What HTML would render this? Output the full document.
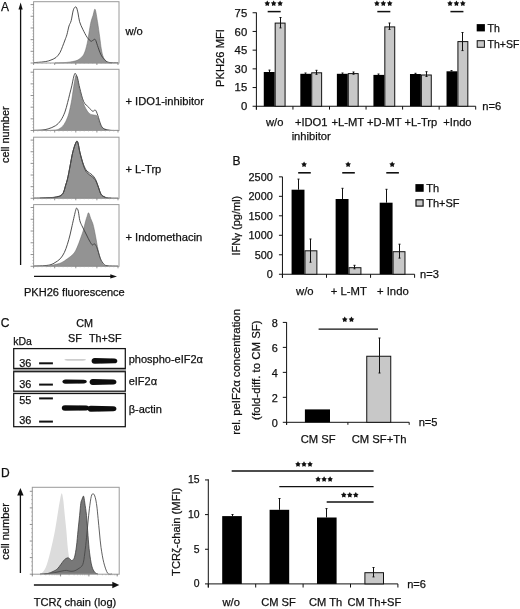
<!DOCTYPE html>
<html><head><meta charset="utf-8"><style>
html,body{margin:0;padding:0;background:#fff;width:520px;height:609px;overflow:hidden}
svg{display:block;filter:blur(0.3px)}
text{font-family:"Liberation Sans", sans-serif;stroke:#111;stroke-width:0.25px}
</style></head><body>
<svg width="520" height="609" viewBox="0 0 520 609">
<rect x="0" y="0" width="520" height="609" fill="#fff"/>
<text x="0.9" y="10.6" font-size="12" text-anchor="start" fill="#111">A</text>
<line x1="20.6" y1="8" x2="20.6" y2="265" stroke="#111" stroke-width="1.3"/>
<polygon points="20.6,2.6 18.5,9.4 22.7,9.4" fill="#111"/>
<line x1="34" y1="276.4" x2="111" y2="276.4" stroke="#111" stroke-width="1.3"/>
<polygon points="117,276.4 110.3,274.2 110.3,278.6" fill="#111"/>
<text x="24.0" y="295.6" font-size="11.05" text-anchor="start" fill="#111">PKH26 fluorescence</text>
<text x="8.9" y="134.7" font-size="11" text-anchor="middle" fill="#111" transform="rotate(-90 8.9 134.7)">cell number</text>
<path d="M55.00,62.90 C56.33,62.87 60.50,62.85 63.00,62.70 C65.50,62.55 68.00,62.28 70.00,62.00 C72.00,61.72 73.50,61.45 75.00,61.00 C76.50,60.55 77.52,60.43 79.00,59.30 C80.48,58.17 82.53,56.85 83.90,54.20 C85.27,51.55 86.28,47.37 87.20,43.40 C88.12,39.43 88.77,34.02 89.40,30.40 C90.03,26.78 90.38,24.23 91.00,21.70 C91.62,19.17 92.42,17.27 93.10,15.20 C93.78,13.13 94.37,8.22 95.10,9.30 C95.83,10.38 96.73,17.10 97.50,21.70 C98.27,26.30 99.07,32.38 99.70,36.90 C100.33,41.42 100.67,45.37 101.30,48.80 C101.93,52.23 102.42,55.23 103.50,57.50 C104.58,59.77 106.38,61.50 107.80,62.40 C109.22,63.30 111.30,62.82 112.00,62.90 L112.00,63.00 L55.00,63.00 Z" fill="#939393" stroke="#666" stroke-width="0.5"/>
<path d="M34.00,62.60 C35.67,62.47 41.33,62.17 44.00,61.80 C46.67,61.43 48.00,61.12 50.00,60.40 C52.00,59.68 54.33,58.82 56.00,57.50 C57.67,56.18 58.92,54.32 60.00,52.50 C61.08,50.68 61.67,48.68 62.50,46.60 C63.33,44.52 64.27,41.98 65.00,40.00 C65.73,38.02 66.23,37.03 66.90,34.70 C67.57,32.37 68.28,28.35 69.00,26.00 C69.72,23.65 70.47,23.30 71.20,20.60 C71.93,17.90 72.58,12.07 73.40,9.80 C74.22,7.53 75.33,6.47 76.10,7.00 C76.87,7.53 77.42,10.55 78.00,13.00 C78.58,15.45 78.80,18.98 79.60,21.70 C80.40,24.42 81.53,26.68 82.80,29.30 C84.07,31.92 85.83,35.42 87.20,37.40 C88.57,39.38 90.03,40.73 91.00,41.20 C91.97,41.67 92.28,40.47 93.00,40.20 C93.72,39.93 94.55,38.70 95.30,39.60 C96.05,40.50 96.60,43.17 97.50,45.60 C98.40,48.03 99.53,51.85 100.70,54.20 C101.87,56.55 103.13,58.33 104.50,59.70 C105.87,61.07 106.65,61.88 108.90,62.40 C111.15,62.92 116.48,62.73 118.00,62.80" fill="none" stroke="#3c3c3c" stroke-width="0.9"/>
<rect x="33.6" y="1.7" width="85.4" height="61.3" fill="none" stroke="#9a9a9a" stroke-width="1"/>
<line x1="30.6" y1="63.0" x2="33.6" y2="63.0" stroke="#777" stroke-width="0.8"/>
<line x1="32.4" y1="60.08" x2="33.6" y2="60.08" stroke="#999" stroke-width="0.6"/>
<line x1="32.4" y1="57.16" x2="33.6" y2="57.16" stroke="#999" stroke-width="0.6"/>
<line x1="32.4" y1="54.24" x2="33.6" y2="54.24" stroke="#999" stroke-width="0.6"/>
<line x1="30.6" y1="51.32" x2="33.6" y2="51.32" stroke="#777" stroke-width="0.8"/>
<line x1="32.4" y1="48.4" x2="33.6" y2="48.4" stroke="#999" stroke-width="0.6"/>
<line x1="32.4" y1="45.480000000000004" x2="33.6" y2="45.480000000000004" stroke="#999" stroke-width="0.6"/>
<line x1="32.4" y1="42.56" x2="33.6" y2="42.56" stroke="#999" stroke-width="0.6"/>
<line x1="30.6" y1="39.64" x2="33.6" y2="39.64" stroke="#777" stroke-width="0.8"/>
<line x1="32.4" y1="36.72" x2="33.6" y2="36.72" stroke="#999" stroke-width="0.6"/>
<line x1="32.4" y1="33.8" x2="33.6" y2="33.8" stroke="#999" stroke-width="0.6"/>
<line x1="32.4" y1="30.880000000000003" x2="33.6" y2="30.880000000000003" stroke="#999" stroke-width="0.6"/>
<line x1="30.6" y1="27.96" x2="33.6" y2="27.96" stroke="#777" stroke-width="0.8"/>
<line x1="32.4" y1="25.04" x2="33.6" y2="25.04" stroke="#999" stroke-width="0.6"/>
<line x1="32.4" y1="22.12" x2="33.6" y2="22.12" stroke="#999" stroke-width="0.6"/>
<line x1="32.4" y1="19.200000000000003" x2="33.6" y2="19.200000000000003" stroke="#999" stroke-width="0.6"/>
<line x1="30.6" y1="16.28" x2="33.6" y2="16.28" stroke="#777" stroke-width="0.8"/>
<line x1="32.4" y1="13.360000000000001" x2="33.6" y2="13.360000000000001" stroke="#999" stroke-width="0.6"/>
<line x1="32.4" y1="10.440000000000001" x2="33.6" y2="10.440000000000001" stroke="#999" stroke-width="0.6"/>
<line x1="32.4" y1="7.520000000000001" x2="33.6" y2="7.520000000000001" stroke="#999" stroke-width="0.6"/>
<line x1="30.6" y1="4.600000000000001" x2="33.6" y2="4.600000000000001" stroke="#777" stroke-width="0.8"/>
<line x1="33.6" y1="63.0" x2="33.6" y2="65.0" stroke="#777" stroke-width="0.8"/>
<line x1="37.82" y1="63.0" x2="37.82" y2="64.0" stroke="#aaa" stroke-width="0.6"/>
<line x1="42.040000000000006" y1="63.0" x2="42.040000000000006" y2="64.0" stroke="#aaa" stroke-width="0.6"/>
<line x1="46.260000000000005" y1="63.0" x2="46.260000000000005" y2="64.0" stroke="#aaa" stroke-width="0.6"/>
<line x1="50.480000000000004" y1="63.0" x2="50.480000000000004" y2="64.0" stroke="#aaa" stroke-width="0.6"/>
<line x1="54.7" y1="63.0" x2="54.7" y2="65.0" stroke="#777" stroke-width="0.8"/>
<line x1="58.92" y1="63.0" x2="58.92" y2="64.0" stroke="#aaa" stroke-width="0.6"/>
<line x1="63.14" y1="63.0" x2="63.14" y2="64.0" stroke="#aaa" stroke-width="0.6"/>
<line x1="67.36" y1="63.0" x2="67.36" y2="64.0" stroke="#aaa" stroke-width="0.6"/>
<line x1="71.58000000000001" y1="63.0" x2="71.58000000000001" y2="64.0" stroke="#aaa" stroke-width="0.6"/>
<line x1="75.80000000000001" y1="63.0" x2="75.80000000000001" y2="65.0" stroke="#777" stroke-width="0.8"/>
<line x1="80.02000000000001" y1="63.0" x2="80.02000000000001" y2="64.0" stroke="#aaa" stroke-width="0.6"/>
<line x1="84.24000000000001" y1="63.0" x2="84.24000000000001" y2="64.0" stroke="#aaa" stroke-width="0.6"/>
<line x1="88.46000000000001" y1="63.0" x2="88.46000000000001" y2="64.0" stroke="#aaa" stroke-width="0.6"/>
<line x1="92.68" y1="63.0" x2="92.68" y2="64.0" stroke="#aaa" stroke-width="0.6"/>
<line x1="96.9" y1="63.0" x2="96.9" y2="65.0" stroke="#777" stroke-width="0.8"/>
<line x1="101.12" y1="63.0" x2="101.12" y2="64.0" stroke="#aaa" stroke-width="0.6"/>
<line x1="105.34" y1="63.0" x2="105.34" y2="64.0" stroke="#aaa" stroke-width="0.6"/>
<line x1="109.56" y1="63.0" x2="109.56" y2="64.0" stroke="#aaa" stroke-width="0.6"/>
<line x1="113.78" y1="63.0" x2="113.78" y2="64.0" stroke="#aaa" stroke-width="0.6"/>
<line x1="118.0" y1="63.0" x2="118.0" y2="65.0" stroke="#777" stroke-width="0.8"/>
<path d="M46.00,130.40 C47.17,130.35 50.90,130.30 53.00,130.10 C55.10,129.90 56.78,130.10 58.60,129.20 C60.42,128.30 62.40,126.68 63.90,124.70 C65.40,122.72 66.63,119.75 67.60,117.30 C68.57,114.85 69.00,112.97 69.70,110.00 C70.40,107.03 71.20,103.00 71.80,99.50 C72.40,96.00 72.78,92.33 73.30,89.00 C73.82,85.67 74.45,81.78 74.90,79.50 C75.35,77.22 75.62,75.63 76.00,75.30 C76.38,74.97 76.75,75.72 77.20,77.50 C77.65,79.28 77.70,81.78 78.70,86.00 C79.70,90.22 81.53,98.32 83.20,102.80 C84.87,107.28 86.85,110.85 88.70,112.90 C90.55,114.95 92.90,114.55 94.30,115.10 C95.70,115.65 96.07,114.52 97.10,116.20 C98.13,117.88 99.28,123.07 100.50,125.20 C101.72,127.33 102.82,128.15 104.40,129.00 C105.98,129.85 108.40,130.07 110.00,130.30 C111.60,130.53 113.33,130.38 114.00,130.40 L114.00,130.50 L46.00,130.50 Z" fill="#939393" stroke="#666" stroke-width="0.5"/>
<path d="M34.00,130.30 C35.33,130.25 39.65,130.23 42.00,130.00 C44.35,129.77 45.85,129.62 48.10,128.90 C50.35,128.18 53.40,127.10 55.50,125.70 C57.60,124.30 59.13,122.77 60.70,120.50 C62.27,118.23 63.75,115.08 64.90,112.10 C66.05,109.12 66.80,105.58 67.60,102.60 C68.40,99.62 69.00,97.00 69.70,94.20 C70.40,91.40 71.20,88.42 71.80,85.80 C72.40,83.18 72.83,80.47 73.30,78.50 C73.77,76.53 74.22,74.78 74.60,74.00 C74.98,73.22 75.10,73.08 75.60,73.80 C76.10,74.52 76.90,75.88 77.60,78.30 C78.30,80.72 78.78,84.40 79.80,88.30 C80.82,92.20 82.22,98.53 83.70,101.70 C85.18,104.87 87.22,105.72 88.70,107.30 C90.18,108.88 91.48,110.73 92.60,111.20 C93.72,111.67 94.55,109.45 95.40,110.10 C96.25,110.75 96.77,112.58 97.70,115.10 C98.63,117.62 99.88,122.88 101.00,125.20 C102.12,127.52 102.90,128.15 104.40,129.00 C105.90,129.85 107.73,130.07 110.00,130.30 C112.27,130.53 116.67,130.38 118.00,130.40" fill="none" stroke="#3c3c3c" stroke-width="0.9"/>
<rect x="33.6" y="69.3" width="85.4" height="61.2" fill="none" stroke="#9a9a9a" stroke-width="1"/>
<line x1="30.6" y1="130.5" x2="33.6" y2="130.5" stroke="#777" stroke-width="0.8"/>
<line x1="32.4" y1="127.585" x2="33.6" y2="127.585" stroke="#999" stroke-width="0.6"/>
<line x1="32.4" y1="124.67" x2="33.6" y2="124.67" stroke="#999" stroke-width="0.6"/>
<line x1="32.4" y1="121.755" x2="33.6" y2="121.755" stroke="#999" stroke-width="0.6"/>
<line x1="30.6" y1="118.84" x2="33.6" y2="118.84" stroke="#777" stroke-width="0.8"/>
<line x1="32.4" y1="115.925" x2="33.6" y2="115.925" stroke="#999" stroke-width="0.6"/>
<line x1="32.4" y1="113.01" x2="33.6" y2="113.01" stroke="#999" stroke-width="0.6"/>
<line x1="32.4" y1="110.095" x2="33.6" y2="110.095" stroke="#999" stroke-width="0.6"/>
<line x1="30.6" y1="107.18" x2="33.6" y2="107.18" stroke="#777" stroke-width="0.8"/>
<line x1="32.4" y1="104.265" x2="33.6" y2="104.265" stroke="#999" stroke-width="0.6"/>
<line x1="32.4" y1="101.35000000000001" x2="33.6" y2="101.35000000000001" stroke="#999" stroke-width="0.6"/>
<line x1="32.4" y1="98.435" x2="33.6" y2="98.435" stroke="#999" stroke-width="0.6"/>
<line x1="30.6" y1="95.52" x2="33.6" y2="95.52" stroke="#777" stroke-width="0.8"/>
<line x1="32.4" y1="92.60499999999999" x2="33.6" y2="92.60499999999999" stroke="#999" stroke-width="0.6"/>
<line x1="32.4" y1="89.69" x2="33.6" y2="89.69" stroke="#999" stroke-width="0.6"/>
<line x1="32.4" y1="86.77499999999999" x2="33.6" y2="86.77499999999999" stroke="#999" stroke-width="0.6"/>
<line x1="30.6" y1="83.86" x2="33.6" y2="83.86" stroke="#777" stroke-width="0.8"/>
<line x1="32.4" y1="80.945" x2="33.6" y2="80.945" stroke="#999" stroke-width="0.6"/>
<line x1="32.4" y1="78.03" x2="33.6" y2="78.03" stroke="#999" stroke-width="0.6"/>
<line x1="32.4" y1="75.115" x2="33.6" y2="75.115" stroke="#999" stroke-width="0.6"/>
<line x1="30.6" y1="72.2" x2="33.6" y2="72.2" stroke="#777" stroke-width="0.8"/>
<line x1="33.6" y1="130.5" x2="33.6" y2="132.5" stroke="#777" stroke-width="0.8"/>
<line x1="37.82" y1="130.5" x2="37.82" y2="131.5" stroke="#aaa" stroke-width="0.6"/>
<line x1="42.040000000000006" y1="130.5" x2="42.040000000000006" y2="131.5" stroke="#aaa" stroke-width="0.6"/>
<line x1="46.260000000000005" y1="130.5" x2="46.260000000000005" y2="131.5" stroke="#aaa" stroke-width="0.6"/>
<line x1="50.480000000000004" y1="130.5" x2="50.480000000000004" y2="131.5" stroke="#aaa" stroke-width="0.6"/>
<line x1="54.7" y1="130.5" x2="54.7" y2="132.5" stroke="#777" stroke-width="0.8"/>
<line x1="58.92" y1="130.5" x2="58.92" y2="131.5" stroke="#aaa" stroke-width="0.6"/>
<line x1="63.14" y1="130.5" x2="63.14" y2="131.5" stroke="#aaa" stroke-width="0.6"/>
<line x1="67.36" y1="130.5" x2="67.36" y2="131.5" stroke="#aaa" stroke-width="0.6"/>
<line x1="71.58000000000001" y1="130.5" x2="71.58000000000001" y2="131.5" stroke="#aaa" stroke-width="0.6"/>
<line x1="75.80000000000001" y1="130.5" x2="75.80000000000001" y2="132.5" stroke="#777" stroke-width="0.8"/>
<line x1="80.02000000000001" y1="130.5" x2="80.02000000000001" y2="131.5" stroke="#aaa" stroke-width="0.6"/>
<line x1="84.24000000000001" y1="130.5" x2="84.24000000000001" y2="131.5" stroke="#aaa" stroke-width="0.6"/>
<line x1="88.46000000000001" y1="130.5" x2="88.46000000000001" y2="131.5" stroke="#aaa" stroke-width="0.6"/>
<line x1="92.68" y1="130.5" x2="92.68" y2="131.5" stroke="#aaa" stroke-width="0.6"/>
<line x1="96.9" y1="130.5" x2="96.9" y2="132.5" stroke="#777" stroke-width="0.8"/>
<line x1="101.12" y1="130.5" x2="101.12" y2="131.5" stroke="#aaa" stroke-width="0.6"/>
<line x1="105.34" y1="130.5" x2="105.34" y2="131.5" stroke="#aaa" stroke-width="0.6"/>
<line x1="109.56" y1="130.5" x2="109.56" y2="131.5" stroke="#aaa" stroke-width="0.6"/>
<line x1="113.78" y1="130.5" x2="113.78" y2="131.5" stroke="#aaa" stroke-width="0.6"/>
<line x1="118.0" y1="130.5" x2="118.0" y2="132.5" stroke="#777" stroke-width="0.8"/>
<path d="M40.00,198.30 C41.17,198.23 44.67,198.03 47.00,197.90 C49.33,197.77 52.17,197.70 54.00,197.50 C55.83,197.30 56.85,197.02 58.00,196.70 C59.15,196.38 59.98,196.30 60.90,195.60 C61.82,194.90 62.70,194.23 63.50,192.50 C64.30,190.77 65.07,187.30 65.70,185.20 C66.33,183.10 66.77,182.03 67.30,179.90 C67.83,177.77 68.37,175.08 68.90,172.40 C69.43,169.72 69.97,166.65 70.50,163.80 C71.03,160.95 71.57,157.78 72.10,155.30 C72.63,152.82 73.17,150.77 73.70,148.90 C74.23,147.03 74.77,145.35 75.30,144.10 C75.83,142.85 76.42,141.42 76.90,141.40 C77.38,141.38 77.68,142.05 78.20,144.00 C78.72,145.95 79.12,149.50 80.00,153.10 C80.88,156.70 82.35,162.35 83.50,165.60 C84.65,168.85 85.47,170.77 86.90,172.60 C88.33,174.43 90.65,175.28 92.10,176.60 C93.55,177.92 94.55,178.70 95.60,180.50 C96.65,182.30 97.45,185.02 98.40,187.40 C99.35,189.78 99.95,193.05 101.30,194.80 C102.65,196.55 104.88,197.32 106.50,197.90 C108.12,198.48 110.25,198.23 111.00,198.30 L111.00,198.30 L40.00,198.30 Z" fill="#939393" stroke="#666" stroke-width="0.5"/>
<path d="M34.00,198.10 C36.17,198.05 43.67,197.93 47.00,197.80 C50.33,197.67 52.17,197.52 54.00,197.30 C55.83,197.08 56.85,196.82 58.00,196.50 C59.15,196.18 59.98,196.12 60.90,195.40 C61.82,194.68 62.70,193.93 63.50,192.20 C64.30,190.47 65.07,187.08 65.70,185.00 C66.33,182.92 66.77,181.83 67.30,179.70 C67.83,177.57 68.37,174.88 68.90,172.20 C69.43,169.52 69.97,166.45 70.50,163.60 C71.03,160.75 71.57,157.58 72.10,155.10 C72.63,152.62 73.17,150.57 73.70,148.70 C74.23,146.83 74.77,145.18 75.30,143.90 C75.83,142.62 76.42,141.07 76.90,141.00 C77.38,140.93 77.68,141.58 78.20,143.50 C78.72,145.42 79.12,149.00 80.00,152.50 C80.88,156.00 82.35,161.42 83.50,164.50 C84.65,167.58 85.47,169.28 86.90,171.00 C88.33,172.72 90.65,173.38 92.10,174.80 C93.55,176.22 94.55,177.47 95.60,179.50 C96.65,181.53 97.45,184.50 98.40,187.00 C99.35,189.50 99.95,192.72 101.30,194.50 C102.65,196.28 104.88,197.10 106.50,197.70 C108.12,198.30 109.08,198.02 111.00,198.10 C112.92,198.18 116.83,198.18 118.00,198.20" fill="none" stroke="#3c3c3c" stroke-width="0.9"/>
<path d="M40.00,198.30 C41.17,198.23 44.67,198.03 47.00,197.90 C49.33,197.77 52.17,197.70 54.00,197.50 C55.83,197.30 56.85,197.02 58.00,196.70 C59.15,196.38 59.98,196.30 60.90,195.60 C61.82,194.90 62.70,194.23 63.50,192.50 C64.30,190.77 65.07,187.30 65.70,185.20 C66.33,183.10 66.77,182.03 67.30,179.90 C67.83,177.77 68.37,175.08 68.90,172.40 C69.43,169.72 69.97,166.65 70.50,163.80 C71.03,160.95 71.57,157.78 72.10,155.30 C72.63,152.82 73.17,150.77 73.70,148.90 C74.23,147.03 74.77,145.35 75.30,144.10 C75.83,142.85 76.42,141.42 76.90,141.40 C77.38,141.38 77.68,142.05 78.20,144.00 C78.72,145.95 79.12,149.50 80.00,153.10 C80.88,156.70 82.35,162.35 83.50,165.60 C84.65,168.85 85.47,170.77 86.90,172.60 C88.33,174.43 90.65,175.28 92.10,176.60 C93.55,177.92 94.55,178.70 95.60,180.50 C96.65,182.30 97.45,185.02 98.40,187.40 C99.35,189.78 99.95,193.05 101.30,194.80 C102.65,196.55 104.88,197.32 106.50,197.90 C108.12,198.48 110.25,198.23 111.00,198.30" fill="none" stroke="#444" stroke-width="0.85"/>
<rect x="33.6" y="137.2" width="85.4" height="61.10000000000002" fill="none" stroke="#9a9a9a" stroke-width="1"/>
<line x1="30.6" y1="198.3" x2="33.6" y2="198.3" stroke="#777" stroke-width="0.8"/>
<line x1="32.4" y1="195.39000000000001" x2="33.6" y2="195.39000000000001" stroke="#999" stroke-width="0.6"/>
<line x1="32.4" y1="192.48000000000002" x2="33.6" y2="192.48000000000002" stroke="#999" stroke-width="0.6"/>
<line x1="32.4" y1="189.57" x2="33.6" y2="189.57" stroke="#999" stroke-width="0.6"/>
<line x1="30.6" y1="186.66" x2="33.6" y2="186.66" stroke="#777" stroke-width="0.8"/>
<line x1="32.4" y1="183.75" x2="33.6" y2="183.75" stroke="#999" stroke-width="0.6"/>
<line x1="32.4" y1="180.84" x2="33.6" y2="180.84" stroke="#999" stroke-width="0.6"/>
<line x1="32.4" y1="177.93" x2="33.6" y2="177.93" stroke="#999" stroke-width="0.6"/>
<line x1="30.6" y1="175.02" x2="33.6" y2="175.02" stroke="#777" stroke-width="0.8"/>
<line x1="32.4" y1="172.11" x2="33.6" y2="172.11" stroke="#999" stroke-width="0.6"/>
<line x1="32.4" y1="169.20000000000002" x2="33.6" y2="169.20000000000002" stroke="#999" stroke-width="0.6"/>
<line x1="32.4" y1="166.29000000000002" x2="33.6" y2="166.29000000000002" stroke="#999" stroke-width="0.6"/>
<line x1="30.6" y1="163.38" x2="33.6" y2="163.38" stroke="#777" stroke-width="0.8"/>
<line x1="32.4" y1="160.47" x2="33.6" y2="160.47" stroke="#999" stroke-width="0.6"/>
<line x1="32.4" y1="157.56" x2="33.6" y2="157.56" stroke="#999" stroke-width="0.6"/>
<line x1="32.4" y1="154.64999999999998" x2="33.6" y2="154.64999999999998" stroke="#999" stroke-width="0.6"/>
<line x1="30.6" y1="151.74" x2="33.6" y2="151.74" stroke="#777" stroke-width="0.8"/>
<line x1="32.4" y1="148.83" x2="33.6" y2="148.83" stroke="#999" stroke-width="0.6"/>
<line x1="32.4" y1="145.92000000000002" x2="33.6" y2="145.92000000000002" stroke="#999" stroke-width="0.6"/>
<line x1="32.4" y1="143.01" x2="33.6" y2="143.01" stroke="#999" stroke-width="0.6"/>
<line x1="30.6" y1="140.1" x2="33.6" y2="140.1" stroke="#777" stroke-width="0.8"/>
<line x1="33.6" y1="198.3" x2="33.6" y2="200.3" stroke="#777" stroke-width="0.8"/>
<line x1="37.82" y1="198.3" x2="37.82" y2="199.3" stroke="#aaa" stroke-width="0.6"/>
<line x1="42.040000000000006" y1="198.3" x2="42.040000000000006" y2="199.3" stroke="#aaa" stroke-width="0.6"/>
<line x1="46.260000000000005" y1="198.3" x2="46.260000000000005" y2="199.3" stroke="#aaa" stroke-width="0.6"/>
<line x1="50.480000000000004" y1="198.3" x2="50.480000000000004" y2="199.3" stroke="#aaa" stroke-width="0.6"/>
<line x1="54.7" y1="198.3" x2="54.7" y2="200.3" stroke="#777" stroke-width="0.8"/>
<line x1="58.92" y1="198.3" x2="58.92" y2="199.3" stroke="#aaa" stroke-width="0.6"/>
<line x1="63.14" y1="198.3" x2="63.14" y2="199.3" stroke="#aaa" stroke-width="0.6"/>
<line x1="67.36" y1="198.3" x2="67.36" y2="199.3" stroke="#aaa" stroke-width="0.6"/>
<line x1="71.58000000000001" y1="198.3" x2="71.58000000000001" y2="199.3" stroke="#aaa" stroke-width="0.6"/>
<line x1="75.80000000000001" y1="198.3" x2="75.80000000000001" y2="200.3" stroke="#777" stroke-width="0.8"/>
<line x1="80.02000000000001" y1="198.3" x2="80.02000000000001" y2="199.3" stroke="#aaa" stroke-width="0.6"/>
<line x1="84.24000000000001" y1="198.3" x2="84.24000000000001" y2="199.3" stroke="#aaa" stroke-width="0.6"/>
<line x1="88.46000000000001" y1="198.3" x2="88.46000000000001" y2="199.3" stroke="#aaa" stroke-width="0.6"/>
<line x1="92.68" y1="198.3" x2="92.68" y2="199.3" stroke="#aaa" stroke-width="0.6"/>
<line x1="96.9" y1="198.3" x2="96.9" y2="200.3" stroke="#777" stroke-width="0.8"/>
<line x1="101.12" y1="198.3" x2="101.12" y2="199.3" stroke="#aaa" stroke-width="0.6"/>
<line x1="105.34" y1="198.3" x2="105.34" y2="199.3" stroke="#aaa" stroke-width="0.6"/>
<line x1="109.56" y1="198.3" x2="109.56" y2="199.3" stroke="#aaa" stroke-width="0.6"/>
<line x1="113.78" y1="198.3" x2="113.78" y2="199.3" stroke="#aaa" stroke-width="0.6"/>
<line x1="118.0" y1="198.3" x2="118.0" y2="200.3" stroke="#777" stroke-width="0.8"/>
<path d="M46.00,266.20 C46.83,266.08 49.50,265.77 51.00,265.50 C52.50,265.23 53.30,265.05 55.00,264.60 C56.70,264.15 59.13,263.77 61.20,262.80 C63.27,261.83 65.50,260.15 67.40,258.80 C69.30,257.45 71.22,256.08 72.60,254.70 C73.98,253.32 74.67,252.40 75.70,250.50 C76.73,248.60 77.85,245.70 78.80,243.30 C79.75,240.90 80.62,238.35 81.40,236.10 C82.18,233.85 82.82,232.22 83.50,229.80 C84.18,227.38 84.90,223.83 85.50,221.60 C86.10,219.37 86.58,217.87 87.10,216.40 C87.62,214.93 88.00,212.45 88.60,212.80 C89.20,213.15 90.00,216.70 90.70,218.50 C91.40,220.30 92.20,221.72 92.80,223.60 C93.40,225.48 93.78,227.38 94.30,229.80 C94.82,232.22 95.38,235.33 95.90,238.10 C96.42,240.87 96.88,243.80 97.40,246.40 C97.92,249.00 98.38,251.28 99.00,253.70 C99.62,256.12 100.32,259.02 101.10,260.90 C101.88,262.78 102.55,264.12 103.70,265.00 C104.85,265.88 107.28,266.00 108.00,266.20 L108.00,266.30 L46.00,266.30 Z" fill="#939393" stroke="#666" stroke-width="0.5"/>
<path d="M34.00,266.00 C35.83,265.93 42.17,265.83 45.00,265.60 C47.83,265.37 49.33,265.10 51.00,264.60 C52.67,264.10 53.47,263.57 55.00,262.60 C56.53,261.63 58.65,260.47 60.20,258.80 C61.75,257.13 63.10,255.02 64.30,252.60 C65.50,250.18 66.45,247.23 67.40,244.30 C68.35,241.37 69.22,238.10 70.00,235.00 C70.78,231.90 71.40,228.80 72.10,225.70 C72.80,222.60 73.60,218.98 74.20,216.40 C74.80,213.82 75.28,211.58 75.70,210.20 C76.12,208.82 76.27,207.93 76.70,208.10 C77.13,208.27 77.78,209.13 78.30,211.20 C78.82,213.27 79.20,218.08 79.80,220.50 C80.40,222.92 81.12,223.97 81.90,225.70 C82.68,227.43 83.63,229.17 84.50,230.90 C85.37,232.63 86.23,234.38 87.10,236.10 C87.97,237.82 88.83,239.73 89.70,241.20 C90.57,242.67 91.53,244.47 92.30,244.90 C93.07,245.33 93.62,243.55 94.30,243.80 C94.98,244.05 95.70,244.93 96.40,246.40 C97.10,247.87 97.82,250.53 98.50,252.60 C99.18,254.67 99.63,256.90 100.50,258.80 C101.37,260.70 102.62,262.85 103.70,264.00 C104.78,265.15 104.62,265.35 107.00,265.70 C109.38,266.05 116.17,266.03 118.00,266.10" fill="none" stroke="#3c3c3c" stroke-width="0.9"/>
<rect x="33.6" y="204.6" width="85.4" height="61.70000000000002" fill="none" stroke="#9a9a9a" stroke-width="1"/>
<line x1="30.6" y1="266.3" x2="33.6" y2="266.3" stroke="#777" stroke-width="0.8"/>
<line x1="32.4" y1="263.36" x2="33.6" y2="263.36" stroke="#999" stroke-width="0.6"/>
<line x1="32.4" y1="260.42" x2="33.6" y2="260.42" stroke="#999" stroke-width="0.6"/>
<line x1="32.4" y1="257.48" x2="33.6" y2="257.48" stroke="#999" stroke-width="0.6"/>
<line x1="30.6" y1="254.54000000000002" x2="33.6" y2="254.54000000000002" stroke="#777" stroke-width="0.8"/>
<line x1="32.4" y1="251.60000000000002" x2="33.6" y2="251.60000000000002" stroke="#999" stroke-width="0.6"/>
<line x1="32.4" y1="248.66000000000003" x2="33.6" y2="248.66000000000003" stroke="#999" stroke-width="0.6"/>
<line x1="32.4" y1="245.72000000000003" x2="33.6" y2="245.72000000000003" stroke="#999" stroke-width="0.6"/>
<line x1="30.6" y1="242.78" x2="33.6" y2="242.78" stroke="#777" stroke-width="0.8"/>
<line x1="32.4" y1="239.84" x2="33.6" y2="239.84" stroke="#999" stroke-width="0.6"/>
<line x1="32.4" y1="236.9" x2="33.6" y2="236.9" stroke="#999" stroke-width="0.6"/>
<line x1="32.4" y1="233.96" x2="33.6" y2="233.96" stroke="#999" stroke-width="0.6"/>
<line x1="30.6" y1="231.02" x2="33.6" y2="231.02" stroke="#777" stroke-width="0.8"/>
<line x1="32.4" y1="228.08" x2="33.6" y2="228.08" stroke="#999" stroke-width="0.6"/>
<line x1="32.4" y1="225.14000000000001" x2="33.6" y2="225.14000000000001" stroke="#999" stroke-width="0.6"/>
<line x1="32.4" y1="222.20000000000002" x2="33.6" y2="222.20000000000002" stroke="#999" stroke-width="0.6"/>
<line x1="30.6" y1="219.26" x2="33.6" y2="219.26" stroke="#777" stroke-width="0.8"/>
<line x1="32.4" y1="216.32" x2="33.6" y2="216.32" stroke="#999" stroke-width="0.6"/>
<line x1="32.4" y1="213.38" x2="33.6" y2="213.38" stroke="#999" stroke-width="0.6"/>
<line x1="32.4" y1="210.44" x2="33.6" y2="210.44" stroke="#999" stroke-width="0.6"/>
<line x1="30.6" y1="207.5" x2="33.6" y2="207.5" stroke="#777" stroke-width="0.8"/>
<line x1="33.6" y1="266.3" x2="33.6" y2="268.3" stroke="#777" stroke-width="0.8"/>
<line x1="37.82" y1="266.3" x2="37.82" y2="267.3" stroke="#aaa" stroke-width="0.6"/>
<line x1="42.040000000000006" y1="266.3" x2="42.040000000000006" y2="267.3" stroke="#aaa" stroke-width="0.6"/>
<line x1="46.260000000000005" y1="266.3" x2="46.260000000000005" y2="267.3" stroke="#aaa" stroke-width="0.6"/>
<line x1="50.480000000000004" y1="266.3" x2="50.480000000000004" y2="267.3" stroke="#aaa" stroke-width="0.6"/>
<line x1="54.7" y1="266.3" x2="54.7" y2="268.3" stroke="#777" stroke-width="0.8"/>
<line x1="58.92" y1="266.3" x2="58.92" y2="267.3" stroke="#aaa" stroke-width="0.6"/>
<line x1="63.14" y1="266.3" x2="63.14" y2="267.3" stroke="#aaa" stroke-width="0.6"/>
<line x1="67.36" y1="266.3" x2="67.36" y2="267.3" stroke="#aaa" stroke-width="0.6"/>
<line x1="71.58000000000001" y1="266.3" x2="71.58000000000001" y2="267.3" stroke="#aaa" stroke-width="0.6"/>
<line x1="75.80000000000001" y1="266.3" x2="75.80000000000001" y2="268.3" stroke="#777" stroke-width="0.8"/>
<line x1="80.02000000000001" y1="266.3" x2="80.02000000000001" y2="267.3" stroke="#aaa" stroke-width="0.6"/>
<line x1="84.24000000000001" y1="266.3" x2="84.24000000000001" y2="267.3" stroke="#aaa" stroke-width="0.6"/>
<line x1="88.46000000000001" y1="266.3" x2="88.46000000000001" y2="267.3" stroke="#aaa" stroke-width="0.6"/>
<line x1="92.68" y1="266.3" x2="92.68" y2="267.3" stroke="#aaa" stroke-width="0.6"/>
<line x1="96.9" y1="266.3" x2="96.9" y2="268.3" stroke="#777" stroke-width="0.8"/>
<line x1="101.12" y1="266.3" x2="101.12" y2="267.3" stroke="#aaa" stroke-width="0.6"/>
<line x1="105.34" y1="266.3" x2="105.34" y2="267.3" stroke="#aaa" stroke-width="0.6"/>
<line x1="109.56" y1="266.3" x2="109.56" y2="267.3" stroke="#aaa" stroke-width="0.6"/>
<line x1="113.78" y1="266.3" x2="113.78" y2="267.3" stroke="#aaa" stroke-width="0.6"/>
<line x1="118.0" y1="266.3" x2="118.0" y2="268.3" stroke="#777" stroke-width="0.8"/>
<text x="125.4" y="35.0" font-size="11.2" text-anchor="start" fill="#111">w/o</text>
<text x="125.4" y="104.8" font-size="11.2" text-anchor="start" fill="#111">+ IDO1-inhibitor</text>
<text x="125.4" y="172.89999999999998" font-size="11.2" text-anchor="start" fill="#111">+ L-Trp</text>
<text x="125.4" y="241.0" font-size="11.2" text-anchor="start" fill="#111">+ Indomethacin</text>
<line x1="256.4" y1="12.5" x2="256.4" y2="109.6" stroke="#111" stroke-width="1"/>
<line x1="252.59999999999997" y1="106.25" x2="256.4" y2="106.25" stroke="#111" stroke-width="1"/>
<text x="247.2" y="110.0" font-size="11.3" text-anchor="end" fill="#111">0</text>
<line x1="252.59999999999997" y1="87.55" x2="256.4" y2="87.55" stroke="#111" stroke-width="1"/>
<text x="247.2" y="91.38" font-size="11.3" text-anchor="end" fill="#111">15</text>
<line x1="252.59999999999997" y1="68.85" x2="256.4" y2="68.85" stroke="#111" stroke-width="1"/>
<text x="247.2" y="72.75999999999999" font-size="11.3" text-anchor="end" fill="#111">30</text>
<line x1="252.59999999999997" y1="50.150000000000006" x2="256.4" y2="50.150000000000006" stroke="#111" stroke-width="1"/>
<text x="247.2" y="54.14" font-size="11.3" text-anchor="end" fill="#111">45</text>
<line x1="252.59999999999997" y1="31.450000000000003" x2="256.4" y2="31.450000000000003" stroke="#111" stroke-width="1"/>
<text x="247.2" y="35.519999999999996" font-size="11.3" text-anchor="end" fill="#111">60</text>
<line x1="252.59999999999997" y1="12.75" x2="256.4" y2="12.75" stroke="#111" stroke-width="1"/>
<text x="247.2" y="16.89999999999999" font-size="11.3" text-anchor="end" fill="#111">75</text>
<line x1="256.4" y1="106.25" x2="475.69999999999993" y2="106.25" stroke="#111" stroke-width="1"/>
<line x1="256.4" y1="106.25" x2="256.4" y2="109.6" stroke="#111" stroke-width="1"/>
<line x1="292.95" y1="106.25" x2="292.95" y2="109.6" stroke="#111" stroke-width="1"/>
<line x1="329.5" y1="106.25" x2="329.5" y2="109.6" stroke="#111" stroke-width="1"/>
<line x1="366.04999999999995" y1="106.25" x2="366.04999999999995" y2="109.6" stroke="#111" stroke-width="1"/>
<line x1="402.59999999999997" y1="106.25" x2="402.59999999999997" y2="109.6" stroke="#111" stroke-width="1"/>
<line x1="439.15" y1="106.25" x2="439.15" y2="109.6" stroke="#111" stroke-width="1"/>
<line x1="475.69999999999993" y1="106.25" x2="475.69999999999993" y2="109.6" stroke="#111" stroke-width="1"/>
<text x="223.7" y="58" font-size="11.2" text-anchor="middle" fill="#111" transform="rotate(-90 223.7 58)">PKH26 MFI</text>
<rect x="263.775" y="72.0" width="10.9" height="34.25" fill="#000"/>
<rect x="275.17499999999995" y="23.1" width="9.9" height="83.15" fill="#c8c8c8" stroke="#111" stroke-width="1"/>
<line x1="280.5" y1="17.5" x2="280.5" y2="27.9" stroke="#111" stroke-width="1"/>
<line x1="279.5" y1="17.5" x2="281.5" y2="17.5" stroke="#111" stroke-width="1"/>
<line x1="279.5" y1="27.9" x2="281.5" y2="27.9" stroke="#111" stroke-width="1"/>
<line x1="269.5" y1="70.1" x2="269.5" y2="72.0" stroke="#111" stroke-width="1"/>
<line x1="268.5" y1="70.1" x2="270.5" y2="70.1" stroke="#111" stroke-width="1"/>
<rect x="300.325" y="73.8" width="10.9" height="32.45" fill="#000"/>
<rect x="311.72499999999997" y="72.8" width="9.9" height="33.45" fill="#c8c8c8" stroke="#111" stroke-width="1"/>
<line x1="316.5" y1="70.3" x2="316.5" y2="74.3" stroke="#111" stroke-width="1"/>
<line x1="315.5" y1="70.3" x2="317.5" y2="70.3" stroke="#111" stroke-width="1"/>
<line x1="315.5" y1="74.3" x2="317.5" y2="74.3" stroke="#111" stroke-width="1"/>
<line x1="305.5" y1="73.0" x2="305.5" y2="73.8" stroke="#111" stroke-width="1"/>
<line x1="304.5" y1="73.0" x2="306.5" y2="73.0" stroke="#111" stroke-width="1"/>
<rect x="336.875" y="73.8" width="10.9" height="32.45" fill="#000"/>
<rect x="348.275" y="73.6" width="9.9" height="32.650000000000006" fill="#c8c8c8" stroke="#111" stroke-width="1"/>
<line x1="353.5" y1="72.0" x2="353.5" y2="74.2" stroke="#111" stroke-width="1"/>
<line x1="352.5" y1="72.0" x2="354.5" y2="72.0" stroke="#111" stroke-width="1"/>
<line x1="352.5" y1="74.2" x2="354.5" y2="74.2" stroke="#111" stroke-width="1"/>
<line x1="342.5" y1="73.0" x2="342.5" y2="73.8" stroke="#111" stroke-width="1"/>
<line x1="341.5" y1="73.0" x2="343.5" y2="73.0" stroke="#111" stroke-width="1"/>
<rect x="373.42499999999995" y="74.9" width="10.9" height="31.349999999999994" fill="#000"/>
<rect x="384.82499999999993" y="26.9" width="9.9" height="79.35" fill="#c8c8c8" stroke="#111" stroke-width="1"/>
<line x1="389.5" y1="23.0" x2="389.5" y2="29.4" stroke="#111" stroke-width="1"/>
<line x1="388.5" y1="23.0" x2="390.5" y2="23.0" stroke="#111" stroke-width="1"/>
<line x1="388.5" y1="29.4" x2="390.5" y2="29.4" stroke="#111" stroke-width="1"/>
<line x1="378.5" y1="74.0" x2="378.5" y2="74.9" stroke="#111" stroke-width="1"/>
<line x1="377.5" y1="74.0" x2="379.5" y2="74.0" stroke="#111" stroke-width="1"/>
<rect x="409.975" y="74.0" width="10.9" height="32.25" fill="#000"/>
<rect x="421.375" y="75.0" width="9.9" height="31.25" fill="#c8c8c8" stroke="#111" stroke-width="1"/>
<line x1="426.5" y1="71.7" x2="426.5" y2="76.5" stroke="#111" stroke-width="1"/>
<line x1="425.5" y1="71.7" x2="427.5" y2="71.7" stroke="#111" stroke-width="1"/>
<line x1="425.5" y1="76.5" x2="427.5" y2="76.5" stroke="#111" stroke-width="1"/>
<line x1="415.5" y1="73.3" x2="415.5" y2="74.0" stroke="#111" stroke-width="1"/>
<line x1="414.5" y1="73.3" x2="416.5" y2="73.3" stroke="#111" stroke-width="1"/>
<rect x="446.525" y="71.3" width="10.9" height="34.95" fill="#000"/>
<rect x="457.92499999999995" y="41.6" width="9.9" height="64.65" fill="#c8c8c8" stroke="#111" stroke-width="1"/>
<line x1="462.5" y1="32.5" x2="462.5" y2="50.6" stroke="#111" stroke-width="1"/>
<line x1="461.5" y1="32.5" x2="463.5" y2="32.5" stroke="#111" stroke-width="1"/>
<line x1="461.5" y1="50.6" x2="463.5" y2="50.6" stroke="#111" stroke-width="1"/>
<line x1="451.5" y1="70.6" x2="451.5" y2="71.3" stroke="#111" stroke-width="1"/>
<line x1="450.5" y1="70.6" x2="452.5" y2="70.6" stroke="#111" stroke-width="1"/>
<line x1="267.67499999999995" y1="11.6" x2="280.67499999999995" y2="11.6" stroke="#111" stroke-width="1.5"/>
<polygon points="267.27,0.55 268.25,2.16 270.08,2.59 268.85,4.01 269.01,5.89 267.27,5.15 265.54,5.89 265.70,4.01 264.47,2.59 266.30,2.16" fill="#111"/>
<polygon points="273.67,0.55 274.65,2.16 276.48,2.59 275.25,4.01 275.41,5.89 273.67,5.15 271.94,5.89 272.10,4.01 270.87,2.59 272.70,2.16" fill="#111"/>
<polygon points="280.07,0.55 281.05,2.16 282.88,2.59 281.65,4.01 281.81,5.89 280.07,5.15 278.34,5.89 278.50,4.01 277.27,2.59 279.10,2.16" fill="#111"/>
<line x1="377.32499999999993" y1="11.6" x2="390.32499999999993" y2="11.6" stroke="#111" stroke-width="1.5"/>
<polygon points="376.92,0.55 377.90,2.16 379.73,2.59 378.50,4.01 378.66,5.89 376.92,5.15 375.19,5.89 375.35,4.01 374.12,2.59 375.95,2.16" fill="#111"/>
<polygon points="383.32,0.55 384.30,2.16 386.13,2.59 384.90,4.01 385.06,5.89 383.32,5.15 381.59,5.89 381.75,4.01 380.52,2.59 382.35,2.16" fill="#111"/>
<polygon points="389.72,0.55 390.70,2.16 392.53,2.59 391.30,4.01 391.46,5.89 389.72,5.15 387.99,5.89 388.15,4.01 386.92,2.59 388.75,2.16" fill="#111"/>
<line x1="450.42499999999995" y1="11.6" x2="463.42499999999995" y2="11.6" stroke="#111" stroke-width="1.5"/>
<polygon points="450.02,0.55 451.00,2.16 452.83,2.59 451.60,4.01 451.76,5.89 450.02,5.15 448.29,5.89 448.45,4.01 447.22,2.59 449.05,2.16" fill="#111"/>
<polygon points="456.42,0.55 457.40,2.16 459.23,2.59 458.00,4.01 458.16,5.89 456.42,5.15 454.69,5.89 454.85,4.01 453.62,2.59 455.45,2.16" fill="#111"/>
<polygon points="462.82,0.55 463.80,2.16 465.63,2.59 464.40,4.01 464.56,5.89 462.82,5.15 461.09,5.89 461.25,4.01 460.02,2.59 461.85,2.16" fill="#111"/>
<rect x="476.7" y="24.1" width="8.2" height="7.3" fill="#000"/>
<text x="487.6" y="31.6" font-size="10.5" text-anchor="start" fill="#111">Th</text>
<rect x="477.2" y="40.7" width="7.2" height="6.6" fill="#c8c8c8" stroke="#111" stroke-width="1"/>
<text x="487.6" y="47.9" font-size="10.5" text-anchor="start" fill="#111">Th+SF</text>
<text x="482.3" y="109.9" font-size="11.2" text-anchor="start" fill="#111">n=6</text>
<text x="274.67499999999995" y="125.9" font-size="11.2" text-anchor="middle" fill="#111">w/o</text>
<text x="311.22499999999997" y="125.9" font-size="11.2" text-anchor="middle" fill="#111">+IDO1</text>
<text x="347.775" y="125.9" font-size="11.2" text-anchor="middle" fill="#111">+L-MT</text>
<text x="384.32499999999993" y="125.9" font-size="11.2" text-anchor="middle" fill="#111">+D-MT</text>
<text x="420.875" y="125.9" font-size="11.2" text-anchor="middle" fill="#111">+L-Trp</text>
<text x="457.42499999999995" y="125.9" font-size="11.2" text-anchor="middle" fill="#111">+Indo</text>
<text x="311.22499999999997" y="139.7" font-size="11.2" text-anchor="middle" fill="#111">inhibitor</text>
<text x="232.6" y="165.2" font-size="12" text-anchor="start" fill="#111">B</text>
<line x1="282.45" y1="176.8" x2="282.45" y2="277.8" stroke="#111" stroke-width="1"/>
<line x1="278.95" y1="274.25" x2="282.45" y2="274.25" stroke="#111" stroke-width="1"/>
<text x="272.8" y="278.35" font-size="10.9" text-anchor="end" fill="#111">0</text>
<line x1="278.95" y1="254.77" x2="282.45" y2="254.77" stroke="#111" stroke-width="1"/>
<text x="272.8" y="258.87" font-size="10.9" text-anchor="end" fill="#111">500</text>
<line x1="278.95" y1="235.29" x2="282.45" y2="235.29" stroke="#111" stroke-width="1"/>
<text x="272.8" y="239.39" font-size="10.9" text-anchor="end" fill="#111">1000</text>
<line x1="278.95" y1="215.81" x2="282.45" y2="215.81" stroke="#111" stroke-width="1"/>
<text x="272.8" y="219.91" font-size="10.9" text-anchor="end" fill="#111">1500</text>
<line x1="278.95" y1="196.32999999999998" x2="282.45" y2="196.32999999999998" stroke="#111" stroke-width="1"/>
<text x="272.8" y="200.42999999999998" font-size="10.9" text-anchor="end" fill="#111">2000</text>
<line x1="278.95" y1="176.85" x2="282.45" y2="176.85" stroke="#111" stroke-width="1"/>
<text x="272.8" y="180.95" font-size="10.9" text-anchor="end" fill="#111">2500</text>
<line x1="282.45" y1="274.25" x2="414.59999999999997" y2="274.25" stroke="#111" stroke-width="1"/>
<line x1="282.45" y1="274.25" x2="282.45" y2="277.8" stroke="#111" stroke-width="1"/>
<line x1="326.5" y1="274.25" x2="326.5" y2="277.8" stroke="#111" stroke-width="1"/>
<line x1="370.54999999999995" y1="274.25" x2="370.54999999999995" y2="277.8" stroke="#111" stroke-width="1"/>
<line x1="414.59999999999997" y1="274.25" x2="414.59999999999997" y2="277.8" stroke="#111" stroke-width="1"/>
<text x="240.5" y="225.6" font-size="11" text-anchor="middle" fill="#111" transform="rotate(-90 240.5 225.6)">IFN<tspan font-size="9.5">&#947;</tspan> (pg/ml)</text>
<rect x="291.575" y="189.7" width="12.9" height="84.55000000000001" fill="#000"/>
<rect x="304.97499999999997" y="250.8" width="11.9" height="23.44999999999999" fill="#c8c8c8" stroke="#111" stroke-width="1"/>
<line x1="310.5" y1="239.0" x2="310.5" y2="262.2" stroke="#111" stroke-width="1"/>
<line x1="309.5" y1="239.0" x2="311.5" y2="239.0" stroke="#111" stroke-width="1"/>
<line x1="309.5" y1="262.2" x2="311.5" y2="262.2" stroke="#111" stroke-width="1"/>
<line x1="298.5" y1="179.1" x2="298.5" y2="189.7" stroke="#111" stroke-width="1"/>
<line x1="297.5" y1="179.1" x2="299.5" y2="179.1" stroke="#111" stroke-width="1"/>
<line x1="298.17499999999995" y1="172.8" x2="310.775" y2="172.8" stroke="#111" stroke-width="1.6"/>
<polygon points="304.07,161.50 305.06,163.14 306.93,163.57 305.67,165.02 305.84,166.93 304.07,166.18 302.31,166.93 302.48,165.02 301.22,163.57 303.09,163.14" fill="#111"/>
<rect x="335.625" y="199.0" width="12.9" height="75.25" fill="#000"/>
<rect x="349.025" y="267.7" width="11.9" height="6.550000000000011" fill="#c8c8c8" stroke="#111" stroke-width="1"/>
<line x1="354.5" y1="265.3" x2="354.5" y2="268.8" stroke="#111" stroke-width="1"/>
<line x1="353.5" y1="265.3" x2="355.5" y2="265.3" stroke="#111" stroke-width="1"/>
<line x1="353.5" y1="268.8" x2="355.5" y2="268.8" stroke="#111" stroke-width="1"/>
<line x1="342.5" y1="188.3" x2="342.5" y2="199.0" stroke="#111" stroke-width="1"/>
<line x1="341.5" y1="188.3" x2="343.5" y2="188.3" stroke="#111" stroke-width="1"/>
<line x1="342.22499999999997" y1="172.8" x2="354.825" y2="172.8" stroke="#111" stroke-width="1.6"/>
<polygon points="348.12,161.50 349.11,163.14 350.98,163.57 349.72,165.02 349.89,166.93 348.12,166.18 346.36,166.93 346.53,165.02 345.27,163.57 347.14,163.14" fill="#111"/>
<rect x="379.675" y="202.7" width="12.9" height="71.55000000000001" fill="#000"/>
<rect x="393.075" y="251.7" width="11.9" height="22.55000000000001" fill="#c8c8c8" stroke="#111" stroke-width="1"/>
<line x1="399.5" y1="244.2" x2="399.5" y2="258.1" stroke="#111" stroke-width="1"/>
<line x1="398.5" y1="244.2" x2="400.5" y2="244.2" stroke="#111" stroke-width="1"/>
<line x1="398.5" y1="258.1" x2="400.5" y2="258.1" stroke="#111" stroke-width="1"/>
<line x1="386.5" y1="189.3" x2="386.5" y2="202.7" stroke="#111" stroke-width="1"/>
<line x1="385.5" y1="189.3" x2="387.5" y2="189.3" stroke="#111" stroke-width="1"/>
<line x1="386.275" y1="172.8" x2="398.875" y2="172.8" stroke="#111" stroke-width="1.6"/>
<polygon points="392.18,161.50 393.16,163.14 395.03,163.57 393.77,165.02 393.94,166.93 392.18,166.18 390.41,166.93 390.58,165.02 389.32,163.57 391.19,163.14" fill="#111"/>
<rect x="415.4" y="184.1" width="8.3" height="7.7" fill="#000"/>
<text x="426.2" y="191.9" font-size="11" text-anchor="start" fill="#111">Th</text>
<rect x="416.0" y="199.8" width="7.1" height="6.3" fill="#c8c8c8" stroke="#111" stroke-width="1.2"/>
<text x="426.2" y="206.9" font-size="11" text-anchor="start" fill="#111">Th+SF</text>
<text x="420.0" y="278.2" font-size="11.1" text-anchor="start" fill="#111">n=3</text>
<text x="304.775" y="295.0" font-size="11.3" text-anchor="middle" fill="#111">w/o</text>
<text x="348.825" y="295.0" font-size="11.3" text-anchor="middle" fill="#111">+ L-MT</text>
<text x="392.875" y="295.0" font-size="11.3" text-anchor="middle" fill="#111">+ Indo</text>
<text x="0.8" y="327.4" font-size="12" text-anchor="start" fill="#111">C</text>
<text x="13.2" y="344.6" font-size="10.5" text-anchor="start" fill="#111">kDa</text>
<text x="84.6" y="326.8" font-size="10.8" text-anchor="middle" fill="#111">CM</text>
<text x="68.1" y="341.6" font-size="10.8" text-anchor="start" fill="#111">SF</text>
<text x="88.9" y="341.6" font-size="10.8" text-anchor="start" fill="#111">Th+SF</text>
<rect x="13" y="368.9" width="113" height="2.4" fill="#9a9a9a"/>
<rect x="13" y="391.8" width="113" height="1.3" fill="#d8d8d8"/>
<rect x="13.7" y="348.6" width="111.6" height="19.799999999999955" fill="#fff" stroke="#151515" stroke-width="1.25"/>
<rect x="13.7" y="371.7" width="111.6" height="19.5" fill="#fff" stroke="#151515" stroke-width="1.25"/>
<rect x="13.7" y="393.5" width="111.6" height="33.19999999999999" fill="#fff" stroke="#151515" stroke-width="1.25"/>
<line x1="39.1" y1="363.3" x2="52.9" y2="363.3" stroke="#111" stroke-width="2.0"/>
<text x="19.2" y="366.6" font-size="10.9" text-anchor="start" fill="#111">36</text>
<line x1="39.1" y1="384.6" x2="52.9" y2="384.6" stroke="#111" stroke-width="2.0"/>
<text x="19.2" y="388.1" font-size="10.9" text-anchor="start" fill="#111">36</text>
<line x1="39.1" y1="398.4" x2="52.9" y2="398.4" stroke="#111" stroke-width="2.0"/>
<text x="19.2" y="403.7" font-size="10.9" text-anchor="start" fill="#111">55</text>
<line x1="39.1" y1="421.6" x2="52.9" y2="421.6" stroke="#111" stroke-width="2.0"/>
<text x="19.2" y="424.4" font-size="10.9" text-anchor="start" fill="#111">36</text>
<defs><filter id="bl" x="-20%" y="-50%" width="140%" height="200%"><feGaussianBlur stdDeviation="0.35"/></filter></defs>
<path d="M67.60,358.90 L82.80,358.90 C85.04,358.90 86.00,359.35 86.00,359.80 C86.00,360.25 85.04,360.70 82.80,360.70 L67.60,360.70 C65.36,360.70 64.40,360.25 64.40,359.80 C64.40,359.35 65.36,358.90 67.60,358.90 Z" fill="#cdcdcd" opacity="1" filter="url(#bl)"/>
<path d="M94.80,358.10 L114.10,358.50 C116.34,358.50 117.30,359.70 117.30,360.90 C117.30,362.10 116.34,363.30 114.10,363.30 L94.80,363.70 C92.56,363.70 91.60,362.30 91.60,360.90 C91.60,359.50 92.56,358.10 94.80,358.10 Z" fill="#0c0c0c" opacity="1" filter="url(#bl)"/>
<path d="M65.60,379.40 L83.60,379.70 C85.84,379.70 86.80,380.65 86.80,381.60 C86.80,382.55 85.84,383.50 83.60,383.50 L65.60,383.80 C63.36,383.80 62.40,382.70 62.40,381.60 C62.40,380.50 63.36,379.40 65.60,379.40 Z" fill="#0c0c0c" opacity="1" filter="url(#bl)"/>
<path d="M92.80,379.00 L113.20,379.60 C115.44,379.60 116.40,380.80 116.40,382.00 C116.40,383.20 115.44,384.40 113.20,384.40 L92.80,385.00 C90.56,385.00 89.60,383.50 89.60,382.00 C89.60,380.50 90.56,379.00 92.80,379.00 Z" fill="#0c0c0c" opacity="1" filter="url(#bl)"/>
<path d="M65.00,405.20 L86.00,405.60 C88.24,405.60 89.20,406.80 89.20,408.00 C89.20,409.20 88.24,410.40 86.00,410.40 L65.00,410.80 C62.76,410.80 61.80,409.40 61.80,408.00 C61.80,406.60 62.76,405.20 65.00,405.20 Z" fill="#0c0c0c" opacity="1" filter="url(#bl)"/>
<path d="M90.80,405.80 L113.20,406.30 C115.44,406.30 116.40,407.55 116.40,408.80 C116.40,410.05 115.44,411.30 113.20,411.30 L90.80,411.80 C88.56,411.80 87.60,410.30 87.60,408.80 C87.60,407.30 88.56,405.80 90.80,405.80 Z" fill="#0c0c0c" opacity="1" filter="url(#bl)"/>
<text x="128.7" y="362.7" font-size="11" text-anchor="start" fill="#111">phospho-eIF2&#945;</text>
<text x="128.7" y="384.7" font-size="11" text-anchor="start" fill="#111">eIF2&#945;</text>
<text x="128.7" y="412.7" font-size="11" text-anchor="start" fill="#111">&#946;-actin</text>
<line x1="286.6" y1="322.2" x2="286.6" y2="424.8" stroke="#111" stroke-width="1"/>
<line x1="282.8" y1="422.3" x2="286.6" y2="422.3" stroke="#111" stroke-width="1"/>
<text x="277.7" y="427.0" font-size="10.9" text-anchor="end" fill="#111">0</text>
<line x1="282.8" y1="397.33000000000004" x2="286.6" y2="397.33000000000004" stroke="#111" stroke-width="1"/>
<text x="277.7" y="402.03000000000003" font-size="10.9" text-anchor="end" fill="#111">2</text>
<line x1="282.8" y1="372.36" x2="286.6" y2="372.36" stroke="#111" stroke-width="1"/>
<text x="277.7" y="377.06" font-size="10.9" text-anchor="end" fill="#111">4</text>
<line x1="282.8" y1="347.39" x2="286.6" y2="347.39" stroke="#111" stroke-width="1"/>
<text x="277.7" y="352.09" font-size="10.9" text-anchor="end" fill="#111">6</text>
<line x1="282.8" y1="322.42" x2="286.6" y2="322.42" stroke="#111" stroke-width="1"/>
<text x="277.7" y="327.12" font-size="10.9" text-anchor="end" fill="#111">8</text>
<line x1="286.6" y1="422.3" x2="409.20000000000005" y2="422.3" stroke="#111" stroke-width="1"/>
<line x1="286.6" y1="422.3" x2="286.6" y2="424.8" stroke="#111" stroke-width="1"/>
<line x1="347.90000000000003" y1="422.3" x2="347.90000000000003" y2="424.8" stroke="#111" stroke-width="1"/>
<line x1="409.20000000000005" y1="422.3" x2="409.20000000000005" y2="424.8" stroke="#111" stroke-width="1"/>
<rect x="304.9" y="409.4" width="25.1" height="12.900000000000034" fill="#000"/>
<rect x="366.75" y="356.25" width="24.0" height="66.05000000000001" fill="#c8c8c8" stroke="#111" stroke-width="1"/>
<line x1="379.5" y1="338" x2="379.5" y2="373" stroke="#111" stroke-width="1"/>
<line x1="378.5" y1="338" x2="380.5" y2="338" stroke="#111" stroke-width="1"/>
<line x1="378.5" y1="373" x2="380.5" y2="373" stroke="#111" stroke-width="1"/>
<line x1="318.6" y1="329.1" x2="378.0" y2="329.1" stroke="#111" stroke-width="1.3"/>
<polygon points="344.75,316.60 345.74,318.24 347.60,318.67 346.35,320.12 346.51,322.03 344.75,321.28 342.99,322.03 343.15,320.12 341.90,318.67 343.76,318.24" fill="#111"/>
<polygon points="351.45,316.60 352.44,318.24 354.30,318.67 353.05,320.12 353.21,322.03 351.45,321.28 349.69,322.03 349.85,320.12 348.60,318.67 350.46,318.24" fill="#111"/>
<text x="240.2" y="371.9" font-size="11.35" text-anchor="middle" fill="#111" transform="rotate(-90 240.2 371.9)">rel. peIF2&#945; concentration</text>
<text x="259.6" y="370.1" font-size="11.45" text-anchor="middle" fill="#111" transform="rotate(-90 259.6 370.1)">(fold-diff. to CM SF)</text>
<text x="418.7" y="426.2" font-size="11.1" text-anchor="start" fill="#111">n=5</text>
<text x="318.1" y="443.1" font-size="11.2" text-anchor="middle" fill="#111">CM SF</text>
<text x="379.1" y="443.1" font-size="11.25" text-anchor="middle" fill="#111">CM SF+Th</text>
<text x="0.9" y="477.0" font-size="12" text-anchor="start" fill="#111">D</text>
<line x1="20.4" y1="494" x2="20.4" y2="573" stroke="#111" stroke-width="1.3"/>
<polygon points="20.4,488.1 17.2,495.4 23.6,495.4" fill="#111"/>
<line x1="33.9" y1="585" x2="113" y2="585" stroke="#111" stroke-width="1.3"/>
<polygon points="119.3,585 112.3,581.8 112.3,588.2" fill="#111"/>
<text x="33.7" y="605.6" font-size="11.1" text-anchor="start" fill="#111">TCR&#950; chain (log)</text>
<text x="8.8" y="531.4" font-size="11" text-anchor="middle" fill="#111" transform="rotate(-90 8.8 531.4)">cell number</text>
<path d="M37.00,574.00 C37.67,573.93 39.55,574.68 41.00,573.60 C42.45,572.52 44.15,571.10 45.70,567.50 C47.25,563.90 48.77,558.08 50.30,552.00 C51.83,545.92 53.63,537.58 54.90,531.00 C56.17,524.42 57.02,517.83 57.90,512.50 C58.78,507.17 59.55,502.22 60.20,499.00 C60.85,495.78 61.28,492.98 61.80,493.20 C62.32,493.42 62.80,496.57 63.30,500.30 C63.80,504.03 64.28,510.48 64.80,515.60 C65.32,520.72 65.88,525.43 66.40,531.00 C66.92,536.57 67.27,543.83 67.90,549.00 C68.53,554.17 69.18,558.50 70.20,562.00 C71.22,565.50 72.37,568.08 74.00,570.00 C75.63,571.92 78.00,572.83 80.00,573.50 C82.00,574.17 85.00,573.92 86.00,574.00 L86.00,574.20 L37.00,574.20 Z" fill="#dcdcdc" stroke="none"/>
<path d="M44.00,574.00 C44.67,573.92 46.50,573.92 48.00,573.50 C49.50,573.08 51.38,572.33 53.00,571.50 C54.62,570.67 55.95,570.28 57.70,568.50 C59.45,566.72 62.12,562.47 63.50,560.80 C64.88,559.13 65.20,558.98 66.00,558.50 C66.80,558.02 67.55,557.73 68.30,557.90 C69.05,558.07 69.87,559.07 70.50,559.50 C71.13,559.93 71.43,560.88 72.10,560.50 C72.77,560.12 73.77,559.62 74.50,557.20 C75.23,554.78 75.92,550.40 76.50,546.00 C77.08,541.60 77.48,535.88 78.00,530.80 C78.52,525.72 79.13,520.08 79.60,515.50 C80.07,510.92 80.40,506.00 80.80,503.30 C81.20,500.60 81.53,500.48 82.00,499.30 C82.47,498.12 83.13,495.58 83.60,496.20 C84.07,496.82 84.32,499.78 84.80,503.00 C85.28,506.22 85.97,510.10 86.50,515.50 C87.03,520.90 87.50,529.28 88.00,535.40 C88.50,541.52 88.87,547.10 89.50,552.20 C90.13,557.30 90.92,562.65 91.80,566.00 C92.68,569.35 93.77,570.97 94.80,572.30 C95.83,573.63 97.47,573.72 98.00,574.00 L98.00,574.20 L44.00,574.20 Z" fill="#787878" stroke="none"/>
<path d="M44.00,574.00 C44.67,573.92 46.50,573.92 48.00,573.50 C49.50,573.08 51.38,572.33 53.00,571.50 C54.62,570.67 55.95,570.28 57.70,568.50 C59.45,566.72 62.12,562.47 63.50,560.80 C64.88,559.13 65.20,558.98 66.00,558.50 C66.80,558.02 67.55,557.73 68.30,557.90 C69.05,558.07 69.87,559.07 70.50,559.50 C71.13,559.93 71.43,560.88 72.10,560.50 C72.77,560.12 73.77,559.62 74.50,557.20 C75.23,554.78 75.92,550.40 76.50,546.00 C77.08,541.60 77.48,535.88 78.00,530.80 C78.52,525.72 79.13,520.08 79.60,515.50 C80.07,510.92 80.40,506.00 80.80,503.30 C81.20,500.60 81.53,500.48 82.00,499.30 C82.47,498.12 83.13,495.58 83.60,496.20 C84.07,496.82 84.32,499.78 84.80,503.00 C85.28,506.22 85.97,510.10 86.50,515.50 C87.03,520.90 87.50,529.28 88.00,535.40 C88.50,541.52 88.87,547.10 89.50,552.20 C90.13,557.30 90.92,562.65 91.80,566.00 C92.68,569.35 93.77,570.97 94.80,572.30 C95.83,573.63 97.47,573.72 98.00,574.00" fill="none" stroke="#383838" stroke-width="0.75"/>
<path d="M40.00,574.00 C41.67,573.88 47.33,573.58 50.00,573.30 C52.67,573.02 54.00,572.68 56.00,572.30 C58.00,571.92 60.28,571.32 62.00,571.00 C63.72,570.68 64.97,570.37 66.30,570.40 C67.63,570.43 68.72,571.10 70.00,571.20 C71.28,571.30 72.67,571.37 74.00,571.00 C75.33,570.63 76.55,570.07 78.00,569.00 C79.45,567.93 81.57,567.27 82.70,564.60 C83.83,561.93 84.17,557.48 84.80,553.00 C85.43,548.52 85.97,542.87 86.50,537.70 C87.03,532.53 87.52,526.82 88.00,522.00 C88.48,517.18 88.85,513.08 89.40,508.80 C89.95,504.52 90.65,498.80 91.30,496.30 C91.95,493.80 92.65,493.63 93.30,493.80 C93.95,493.97 94.62,495.27 95.20,497.30 C95.78,499.33 96.32,502.47 96.80,506.00 C97.28,509.53 97.65,514.00 98.10,518.50 C98.55,523.00 99.02,528.20 99.50,533.00 C99.98,537.80 100.28,542.35 101.00,547.30 C101.72,552.25 102.68,558.37 103.80,562.70 C104.92,567.03 106.33,571.42 107.70,573.30 C109.07,575.18 111.28,573.88 112.00,574.00" fill="none" stroke="#444" stroke-width="0.85"/>
<rect x="32.3" y="487.3" width="86.9" height="86.90000000000003" fill="none" stroke="#9a9a9a" stroke-width="1"/>
<line x1="29.799999999999997" y1="574.2" x2="32.3" y2="574.2" stroke="#777" stroke-width="0.8"/>
<line x1="31.099999999999998" y1="570.0550000000001" x2="32.3" y2="570.0550000000001" stroke="#999" stroke-width="0.6"/>
<line x1="31.099999999999998" y1="565.9100000000001" x2="32.3" y2="565.9100000000001" stroke="#999" stroke-width="0.6"/>
<line x1="31.099999999999998" y1="561.765" x2="32.3" y2="561.765" stroke="#999" stroke-width="0.6"/>
<line x1="29.799999999999997" y1="557.62" x2="32.3" y2="557.62" stroke="#777" stroke-width="0.8"/>
<line x1="31.099999999999998" y1="553.475" x2="32.3" y2="553.475" stroke="#999" stroke-width="0.6"/>
<line x1="31.099999999999998" y1="549.33" x2="32.3" y2="549.33" stroke="#999" stroke-width="0.6"/>
<line x1="31.099999999999998" y1="545.185" x2="32.3" y2="545.185" stroke="#999" stroke-width="0.6"/>
<line x1="29.799999999999997" y1="541.0400000000001" x2="32.3" y2="541.0400000000001" stroke="#777" stroke-width="0.8"/>
<line x1="31.099999999999998" y1="536.8950000000001" x2="32.3" y2="536.8950000000001" stroke="#999" stroke-width="0.6"/>
<line x1="31.099999999999998" y1="532.7500000000001" x2="32.3" y2="532.7500000000001" stroke="#999" stroke-width="0.6"/>
<line x1="31.099999999999998" y1="528.605" x2="32.3" y2="528.605" stroke="#999" stroke-width="0.6"/>
<line x1="29.799999999999997" y1="524.46" x2="32.3" y2="524.46" stroke="#777" stroke-width="0.8"/>
<line x1="31.099999999999998" y1="520.315" x2="32.3" y2="520.315" stroke="#999" stroke-width="0.6"/>
<line x1="31.099999999999998" y1="516.1700000000001" x2="32.3" y2="516.1700000000001" stroke="#999" stroke-width="0.6"/>
<line x1="31.099999999999998" y1="512.025" x2="32.3" y2="512.025" stroke="#999" stroke-width="0.6"/>
<line x1="29.799999999999997" y1="507.88" x2="32.3" y2="507.88" stroke="#777" stroke-width="0.8"/>
<line x1="31.099999999999998" y1="503.735" x2="32.3" y2="503.735" stroke="#999" stroke-width="0.6"/>
<line x1="31.099999999999998" y1="499.59" x2="32.3" y2="499.59" stroke="#999" stroke-width="0.6"/>
<line x1="31.099999999999998" y1="495.445" x2="32.3" y2="495.445" stroke="#999" stroke-width="0.6"/>
<line x1="29.799999999999997" y1="491.3" x2="32.3" y2="491.3" stroke="#777" stroke-width="0.8"/>
<line x1="32.3" y1="574.2" x2="32.3" y2="576.4000000000001" stroke="#666" stroke-width="0.8"/>
<line x1="40.819148877290665" y1="574.2" x2="40.819148877290665" y2="575.3000000000001" stroke="#999" stroke-width="0.6"/>
<line x1="45.802531508566446" y1="574.2" x2="45.802531508566446" y2="575.3000000000001" stroke="#999" stroke-width="0.6"/>
<line x1="49.33829775458133" y1="574.2" x2="49.33829775458133" y2="575.3000000000001" stroke="#999" stroke-width="0.6"/>
<line x1="52.08085112270933" y1="574.2" x2="52.08085112270933" y2="575.3000000000001" stroke="#999" stroke-width="0.6"/>
<line x1="54.321680385857114" y1="574.2" x2="54.321680385857114" y2="575.3000000000001" stroke="#999" stroke-width="0.6"/>
<line x1="56.21627453240346" y1="574.2" x2="56.21627453240346" y2="575.3000000000001" stroke="#999" stroke-width="0.6"/>
<line x1="57.857446631872" y1="574.2" x2="57.857446631872" y2="575.3000000000001" stroke="#999" stroke-width="0.6"/>
<line x1="59.305063017132895" y1="574.2" x2="59.305063017132895" y2="575.3000000000001" stroke="#999" stroke-width="0.6"/>
<line x1="60.599999999999994" y1="574.2" x2="60.599999999999994" y2="576.4000000000001" stroke="#666" stroke-width="0.8"/>
<line x1="69.11914887729066" y1="574.2" x2="69.11914887729066" y2="575.3000000000001" stroke="#999" stroke-width="0.6"/>
<line x1="74.10253150856644" y1="574.2" x2="74.10253150856644" y2="575.3000000000001" stroke="#999" stroke-width="0.6"/>
<line x1="77.63829775458133" y1="574.2" x2="77.63829775458133" y2="575.3000000000001" stroke="#999" stroke-width="0.6"/>
<line x1="80.38085112270933" y1="574.2" x2="80.38085112270933" y2="575.3000000000001" stroke="#999" stroke-width="0.6"/>
<line x1="82.6216803858571" y1="574.2" x2="82.6216803858571" y2="575.3000000000001" stroke="#999" stroke-width="0.6"/>
<line x1="84.51627453240346" y1="574.2" x2="84.51627453240346" y2="575.3000000000001" stroke="#999" stroke-width="0.6"/>
<line x1="86.157446631872" y1="574.2" x2="86.157446631872" y2="575.3000000000001" stroke="#999" stroke-width="0.6"/>
<line x1="87.60506301713289" y1="574.2" x2="87.60506301713289" y2="575.3000000000001" stroke="#999" stroke-width="0.6"/>
<line x1="88.9" y1="574.2" x2="88.9" y2="576.4000000000001" stroke="#666" stroke-width="0.8"/>
<line x1="97.41914887729067" y1="574.2" x2="97.41914887729067" y2="575.3000000000001" stroke="#999" stroke-width="0.6"/>
<line x1="102.40253150856645" y1="574.2" x2="102.40253150856645" y2="575.3000000000001" stroke="#999" stroke-width="0.6"/>
<line x1="105.93829775458134" y1="574.2" x2="105.93829775458134" y2="575.3000000000001" stroke="#999" stroke-width="0.6"/>
<line x1="108.68085112270934" y1="574.2" x2="108.68085112270934" y2="575.3000000000001" stroke="#999" stroke-width="0.6"/>
<line x1="110.92168038585712" y1="574.2" x2="110.92168038585712" y2="575.3000000000001" stroke="#999" stroke-width="0.6"/>
<line x1="112.81627453240347" y1="574.2" x2="112.81627453240347" y2="575.3000000000001" stroke="#999" stroke-width="0.6"/>
<line x1="114.45744663187202" y1="574.2" x2="114.45744663187202" y2="575.3000000000001" stroke="#999" stroke-width="0.6"/>
<line x1="115.9050630171329" y1="574.2" x2="115.9050630171329" y2="575.3000000000001" stroke="#999" stroke-width="0.6"/>
<line x1="117.2" y1="574.2" x2="117.2" y2="576.4000000000001" stroke="#666" stroke-width="0.8"/>
<line x1="208.3" y1="479.3" x2="208.3" y2="587.5" stroke="#111" stroke-width="1"/>
<line x1="205.0" y1="583.9" x2="208.3" y2="583.9" stroke="#111" stroke-width="1"/>
<text x="199.5" y="587.3" font-size="10.4" text-anchor="end" fill="#111">0</text>
<line x1="205.0" y1="549.25" x2="208.3" y2="549.25" stroke="#111" stroke-width="1"/>
<text x="199.5" y="552.65" font-size="10.4" text-anchor="end" fill="#111">5</text>
<line x1="205.0" y1="514.6" x2="208.3" y2="514.6" stroke="#111" stroke-width="1"/>
<text x="199.5" y="518.0" font-size="10.4" text-anchor="end" fill="#111">10</text>
<line x1="205.0" y1="479.95" x2="208.3" y2="479.95" stroke="#111" stroke-width="1"/>
<text x="199.5" y="483.34999999999997" font-size="10.4" text-anchor="end" fill="#111">15</text>
<line x1="208.3" y1="583.9" x2="397.9" y2="583.9" stroke="#111" stroke-width="1"/>
<line x1="208.3" y1="583.9" x2="208.3" y2="587.5" stroke="#111" stroke-width="1"/>
<line x1="255.70000000000002" y1="583.9" x2="255.70000000000002" y2="587.5" stroke="#111" stroke-width="1"/>
<line x1="303.1" y1="583.9" x2="303.1" y2="587.5" stroke="#111" stroke-width="1"/>
<line x1="350.5" y1="583.9" x2="350.5" y2="587.5" stroke="#111" stroke-width="1"/>
<line x1="397.9" y1="583.9" x2="397.9" y2="587.5" stroke="#111" stroke-width="1"/>
<rect x="222.2" y="516.1" width="19.6" height="67.79999999999995" fill="#000"/>
<line x1="232.5" y1="514.5" x2="232.5" y2="516.1" stroke="#111" stroke-width="1"/>
<line x1="231.5" y1="514.5" x2="233.5" y2="514.5" stroke="#111" stroke-width="1"/>
<rect x="269.59999999999997" y="509.8" width="19.6" height="74.09999999999997" fill="#000"/>
<line x1="279.5" y1="498.5" x2="279.5" y2="509.8" stroke="#111" stroke-width="1"/>
<line x1="278.5" y1="498.5" x2="280.5" y2="498.5" stroke="#111" stroke-width="1"/>
<rect x="317.0" y="517.5" width="19.6" height="66.39999999999998" fill="#000"/>
<line x1="326.5" y1="508.6" x2="326.5" y2="517.5" stroke="#111" stroke-width="1"/>
<line x1="325.5" y1="508.6" x2="327.5" y2="508.6" stroke="#111" stroke-width="1"/>
<rect x="364.90000000000003" y="572.7" width="18.6" height="11.199999999999932" fill="#c8c8c8" stroke="#111" stroke-width="1"/>
<line x1="373.5" y1="567.5" x2="373.5" y2="576.9" stroke="#111" stroke-width="1"/>
<line x1="372.5" y1="567.5" x2="374.5" y2="567.5" stroke="#111" stroke-width="1"/>
<line x1="372.5" y1="576.9" x2="374.5" y2="576.9" stroke="#111" stroke-width="1"/>
<line x1="231.7" y1="471.0" x2="373.6" y2="471.0" stroke="#111" stroke-width="1.3"/>
<line x1="279.3" y1="486.6" x2="373.6" y2="486.6" stroke="#111" stroke-width="1.3"/>
<line x1="326.7" y1="502.0" x2="373.6" y2="502.0" stroke="#111" stroke-width="1.3"/>
<polygon points="298.00,461.35 298.97,462.96 300.81,463.39 299.57,464.81 299.73,466.69 298.00,465.95 296.27,466.69 296.43,464.81 295.19,463.39 297.03,462.96" fill="#111"/>
<polygon points="304.00,461.35 304.97,462.96 306.81,463.39 305.57,464.81 305.73,466.69 304.00,465.95 302.27,466.69 302.43,464.81 301.19,463.39 303.03,462.96" fill="#111"/>
<polygon points="310.00,461.35 310.97,462.96 312.81,463.39 311.57,464.81 311.73,466.69 310.00,465.95 308.27,466.69 308.43,464.81 307.19,463.39 309.03,462.96" fill="#111"/>
<polygon points="318.10,476.35 319.07,477.96 320.91,478.39 319.67,479.81 319.83,481.69 318.10,480.95 316.37,481.69 316.53,479.81 315.29,478.39 317.13,477.96" fill="#111"/>
<polygon points="324.10,476.35 325.07,477.96 326.91,478.39 325.67,479.81 325.83,481.69 324.10,480.95 322.37,481.69 322.53,479.81 321.29,478.39 323.13,477.96" fill="#111"/>
<polygon points="330.10,476.35 331.07,477.96 332.91,478.39 331.67,479.81 331.83,481.69 330.10,480.95 328.37,481.69 328.53,479.81 327.29,478.39 329.13,477.96" fill="#111"/>
<polygon points="343.80,492.05 344.77,493.66 346.61,494.09 345.37,495.51 345.53,497.39 343.80,496.65 342.07,497.39 342.23,495.51 340.99,494.09 342.83,493.66" fill="#111"/>
<polygon points="349.80,492.05 350.77,493.66 352.61,494.09 351.37,495.51 351.53,497.39 349.80,496.65 348.07,497.39 348.23,495.51 346.99,494.09 348.83,493.66" fill="#111"/>
<polygon points="355.80,492.05 356.77,493.66 358.61,494.09 357.37,495.51 357.53,497.39 355.80,496.65 354.07,497.39 354.23,495.51 352.99,494.09 354.83,493.66" fill="#111"/>
<text x="179.7" y="531.8" font-size="11.2" text-anchor="middle" fill="#111" transform="rotate(-90 179.7 531.8)">TCR&#950;-chain (MFI)</text>
<text x="407.2" y="588.0" font-size="11.1" text-anchor="start" fill="#111">n=6</text>
<text x="231.2" y="605.6" font-size="11.1" text-anchor="middle" fill="#111">w/o</text>
<text x="278.5" y="605.6" font-size="11.1" text-anchor="middle" fill="#111">CM SF</text>
<text x="325.6" y="605.6" font-size="11.1" text-anchor="middle" fill="#111">CM Th</text>
<text x="374.3" y="605.6" font-size="11.1" text-anchor="middle" fill="#111">CM Th+SF</text>
</svg>
</body></html>
